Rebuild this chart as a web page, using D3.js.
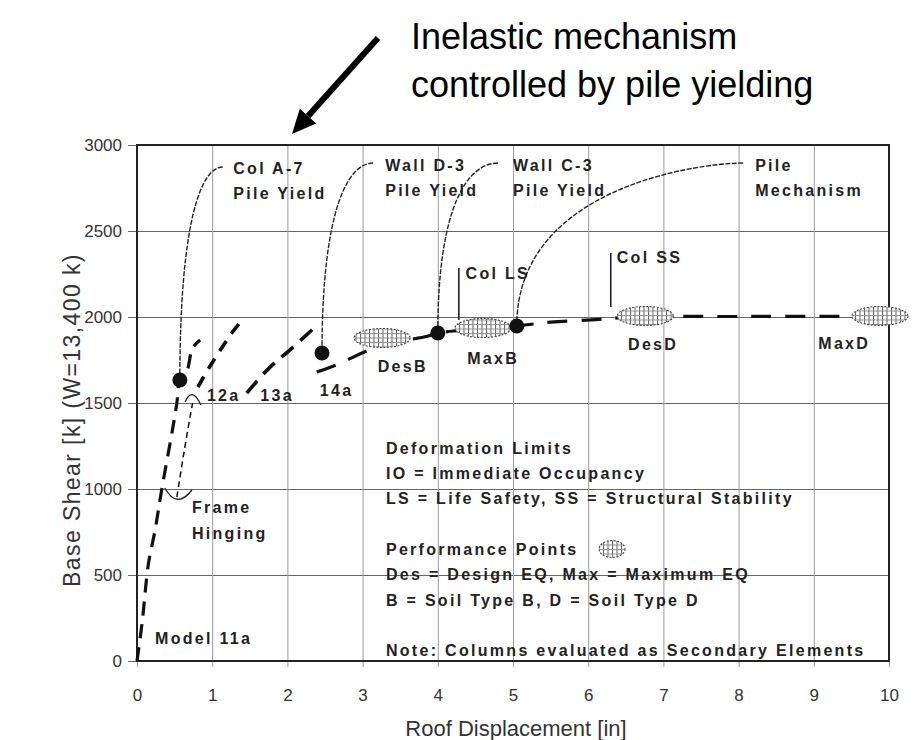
<!DOCTYPE html>
<html>
<head>
<meta charset="utf-8">
<script src="https://cdn.jsdelivr.net/npm/d3@7"></script>
<style>
  body { margin: 0; background: #fff; }
  svg { display: block; font-family: "Liberation Sans", Arial, sans-serif; }
</style>
</head>
<body>
<svg id="chart" width="913" height="740"></svg>
<script>
// ---- data (x = roof displacement [in], V = base shear [k]) ----
var xTicks = [0, 1, 2, 3, 4, 5, 6, 7, 8, 9, 10];
var yTicks = [0, 500, 1000, 1500, 2000, 2500, 3000];

var model11aX = [0, 0.07, 0.15, 0.24, 0.33, 0.47, 0.53, 0.57, 0.66, 0.74, 0.84];
var model11aV = [0, 230, 560, 760, 1000, 1340, 1500, 1634, 1680, 1820, 1866];

var model12aLowX = [0.53, 0.62, 0.71, 0.74];
var model12aLowV = [953, 1200, 1430, 1500];
var model12aX = [0.81, 0.94, 1.04, 1.17, 1.26, 1.40];
var model12aV = [1593, 1692, 1762, 1849, 1907, 1983];

var model13aX = [1.46, 1.75, 2.05, 2.37];
var model13aV = [1558, 1700, 1815, 1942];

var model14aX = [2.39, 2.67, 3.07, 3.40, 3.86, 4.00, 4.60, 5.05, 5.50, 6.10, 6.60, 8.00, 10];
var model14aV = [1680, 1725, 1805, 1850, 1888, 1907, 1932, 1948, 1970, 1985, 2000, 2003, 2003];

var pileYieldNames = ["Col A-7", "Wall D-3", "Wall C-3", "Pile"];
var pileYieldX = [0.57, 2.46, 4.00, 5.05];
var pileYieldV = [1634, 1791, 1907, 1948];
// where each leader leaves its label
var leaderX = [1.14, 3.14, 4.80, 8.06];
var leaderV = [2872, 2895, 2895, 2895];

var perfNames = ["DesB", "MaxB", "DesD", "MaxD"];
var perfX = [3.26, 4.60, 6.76, 9.88];
var perfV = [1878, 1936, 2006, 2006];

var limitNames = ["Col LS", "Col SS"];
var limitX = [4.28, 6.30];
var limitLow = [1983, 2058];
var limitHigh = [2285, 2372];

// plot labels: text, x, V (left edge, vertical centre)
var plotLabels = [
  ["Col A-7", 1.28, 2866], ["Pile Yield", 1.28, 2721],
  ["Wall D-3", 3.30, 2884], ["Pile Yield", 3.30, 2738],
  ["Wall C-3", 5.00, 2884], ["Pile Yield", 5.00, 2738],
  ["Pile", 8.22, 2884], ["Mechanism", 8.22, 2738],
  ["Col LS", 4.37, 2256], ["Col SS", 6.38, 2349],
  ["12a", 0.93, 1547], ["13a", 1.64, 1547], ["14a", 2.43, 1576],
  ["DesB", 3.20, 1715], ["MaxB", 4.39, 1762], ["DesD", 6.53, 1843], ["MaxD", 9.06, 1849],
  ["Frame", 0.73, 895], ["Hinging", 0.73, 744],
  ["Model 11a", 0.24, 134]
];
var notes = [
  ["Deformation Limits", 1238], ["IO = Immediate Occupancy", 1093],
  ["LS = Life Safety, SS = Structural Stability", 948],
  ["Performance Points", 651], ["Des = Design EQ, Max = Maximum EQ", 506],
  ["B = Soil Type B, D = Soil Type D", 355],
  ["Note: Columns evaluated as Secondary Elements", 64]
];
var notesX = 3.31;

// ---- chart ----
var svg = d3.select("#chart");
var x = d3.scaleLinear().domain([0, 10]).range([137, 889]);
var y = d3.scaleLinear().domain([0, 3000]).range([661, 145]);

function zip(xs, vs) { return xs.map(function(v, i) { return [v, vs[i]]; }); }

var defs = svg.append("defs");
var hatch = defs.append("pattern").attr("id", "hatch")
    .attr("patternUnits", "userSpaceOnUse").attr("width", 4.5).attr("height", 4.5);
hatch.append("rect").attr("width", 4.5).attr("height", 4.5).attr("fill", "#fff");
hatch.append("path").attr("d", "M0.5,0V4.5").attr("stroke", "#5e5e5e").attr("stroke-width", 1);
hatch.append("path").attr("d", "M0,0.5H4.5").attr("stroke", "#8e8e8e").attr("stroke-width", 1);

// gridlines + tick labels
var yAxis = svg.append("g").attr("transform", "translate(128,0)")
    .call(d3.axisLeft(y).tickValues(yTicks).tickFormat(d3.format("d"))
      .tickSizeInner(-(889 - 128)).tickSizeOuter(0).tickPadding(6));
yAxis.select(".domain").remove();
yAxis.selectAll("line").attr("stroke", "#666").attr("stroke-width", 1.2);
yAxis.selectAll("text").attr("font-size", 17).attr("fill", "#333")
    .attr("font-family", "Liberation Sans, Arial, sans-serif");

var xAxis = svg.append("g").attr("transform", "translate(0,667)")
    .call(d3.axisBottom(x).tickValues(xTicks).tickSizeInner(-(667 - 145)).tickSizeOuter(0).tickPadding(22));
xAxis.select(".domain").remove();
xAxis.selectAll("line").attr("stroke", "#9a9a9a").attr("stroke-width", 1);
xAxis.selectAll("text").attr("font-size", 17).attr("fill", "#333")
    .attr("font-family", "Liberation Sans, Arial, sans-serif");

// frame
svg.append("rect").attr("x", x(0)).attr("y", y(3000))
    .attr("width", x(10) - x(0)).attr("height", y(0) - y(3000))
    .attr("fill", "none").attr("stroke", "#222").attr("stroke-width", 2);

// axis titles
svg.append("text").attr("x", 516).attr("y", 736).attr("text-anchor", "middle")
    .attr("font-size", 22).attr("fill", "#333").text("Roof Displacement [in]");
svg.append("text").attr("transform", "translate(80,420) rotate(-90)").attr("text-anchor", "middle")
    .attr("font-size", 23).attr("letter-spacing", 1.4).attr("fill", "#333")
    .text("Base Shear [k] (W=13,400 k)");

// pushover curves
var line = d3.line().x(function(d) { return x(d[0]); }).y(function(d) { return y(d[1]); })
    .curve(d3.curveCatmullRom.alpha(0.5));
var curves = [
  { pts: zip(model11aX, model11aV), w: 3.2, dash: "14,9" },
  { pts: zip(model12aLowX, model12aLowV), w: 1.5, dash: "6,4" },
  { pts: zip(model12aX, model12aV), w: 3.6, dash: "12,9" },
  { pts: zip(model13aX, model13aV), w: 3.6, dash: "16,9" },
  { pts: zip(model14aX, model14aV), w: 3.2, dash: "20,14" }
];
svg.append("g").selectAll("path").data(curves).enter().append("path")
    .attr("d", function(d) { return line(d.pts); })
    .attr("fill", "none").attr("stroke", "#111")
    .attr("stroke-width", function(d) { return d.w; })
    .attr("stroke-dasharray", function(d) { return d.dash; });

// small hooks near frame hinging and 12a
svg.append("path")
    .attr("d", "M" + x(0.37) + "," + y(1006) + "Q" + x(0.53) + "," + y(880) + " " + x(0.73) + "," + y(994))
    .attr("fill", "none").attr("stroke", "#222").attr("stroke-width", 1.4);
svg.append("path")
    .attr("d", "M" + x(0.64) + "," + y(1506) + "Q" + x(0.73) + "," + y(1600) + " " + x(0.85) + "," + y(1488))
    .attr("fill", "none").attr("stroke", "#222").attr("stroke-width", 1.4);

// deformation limits
svg.append("g").selectAll("line").data(limitX).enter().append("line")
    .attr("x1", function(d) { return x(d); }).attr("x2", function(d) { return x(d); })
    .attr("y1", function(d, i) { return y(limitLow[i]); })
    .attr("y2", function(d, i) { return y(limitHigh[i]); })
    .attr("stroke", "#222").attr("stroke-width", 1.6);

// leaders from pile yield labels
var bendA = [0.5, 0.5, 0.5, 0.2], bendB = [0.25, 0.25, 0.25, 0.15];
svg.append("g").selectAll("path").data(pileYieldX).enter().append("path")
    .attr("d", function(d, i) {
      var sx = x(leaderX[i]), sy = y(leaderV[i]), ex = x(d), ey = y(pileYieldV[i]);
      return "M" + sx + "," + sy + "C" + (sx + (ex - sx) * bendA[i]) + "," + sy + " " +
        ex + "," + (sy + (ey - sy) * bendB[i]) + " " + ex + "," + ey;
    })
    .attr("fill", "none").attr("stroke", "#222").attr("stroke-width", 1.4)
    .attr("stroke-dasharray", "5,1.5");

// performance points
svg.append("g").selectAll("ellipse").data(perfX).enter().append("ellipse")
    .attr("cx", function(d) { return x(d); })
    .attr("cy", function(d, i) { return y(perfV[i]); })
    .attr("rx", 28).attr("ry", 9.5)
    .attr("fill", "url(#hatch)").attr("stroke", "#444").attr("stroke-width", 1.1)
    .attr("stroke-dasharray", "2,1.5");

// pile yield dots
svg.append("g").selectAll("circle").data(pileYieldX).enter().append("circle")
    .attr("cx", function(d) { return x(d); })
    .attr("cy", function(d, i) { return y(pileYieldV[i]); })
    .attr("r", 7.5).attr("fill", "#111");

// labels
var lbl = svg.append("g").attr("font-size", 16).attr("font-weight", "bold")
    .attr("letter-spacing", 2.3).attr("fill", "#222");
lbl.selectAll("text.pl").data(plotLabels).enter().append("text").attr("class", "pl")
    .attr("x", function(d) { return x(d[1]); })
    .attr("y", function(d) { return y(d[2]); })
    .attr("dy", "0.35em").text(function(d) { return d[0]; });
lbl.selectAll("text.nt").data(notes).enter().append("text").attr("class", "nt")
    .attr("x", x(notesX))
    .attr("y", function(d) { return y(d[1]); })
    .attr("dy", "0.35em").text(function(d) { return d[0]; });

// legend icon for performance points
svg.append("ellipse").attr("cx", 612).attr("cy", y(651)).attr("rx", 13).attr("ry", 8.5)
    .attr("fill", "url(#hatch)").attr("stroke", "#444").attr("stroke-width", 1.1)
    .attr("stroke-dasharray", "2,1.5");

// top annotation
var topNote = svg.append("g");
topNote.append("text").attr("x", 411).attr("y", 49).attr("font-size", 36).attr("fill", "#000")
    .text("Inelastic mechanism");
topNote.append("text").attr("x", 411).attr("y", 97).attr("font-size", 36).attr("fill", "#000")
    .text("controlled by pile yielding");
var ax0 = 378, ay0 = 38, ax1 = 292, ay1 = 134;
var len = Math.hypot(ax1 - ax0, ay1 - ay0), ux = (ax1 - ax0) / len, uy = (ay1 - ay0) / len;
var bx = ax1 - 24 * ux, by = ay1 - 24 * uy;
topNote.append("line").attr("x1", ax0).attr("y1", ay0).attr("x2", bx).attr("y2", by)
    .attr("stroke", "#000").attr("stroke-width", 6);
topNote.append("path")
    .attr("d", "M" + ax1 + "," + ay1 + "L" + (bx - 11 * uy) + "," + (by + 11 * ux) +
      "L" + (bx + 11 * uy) + "," + (by - 11 * ux) + "Z")
    .attr("fill", "#000");
</script>
</body>
</html>
